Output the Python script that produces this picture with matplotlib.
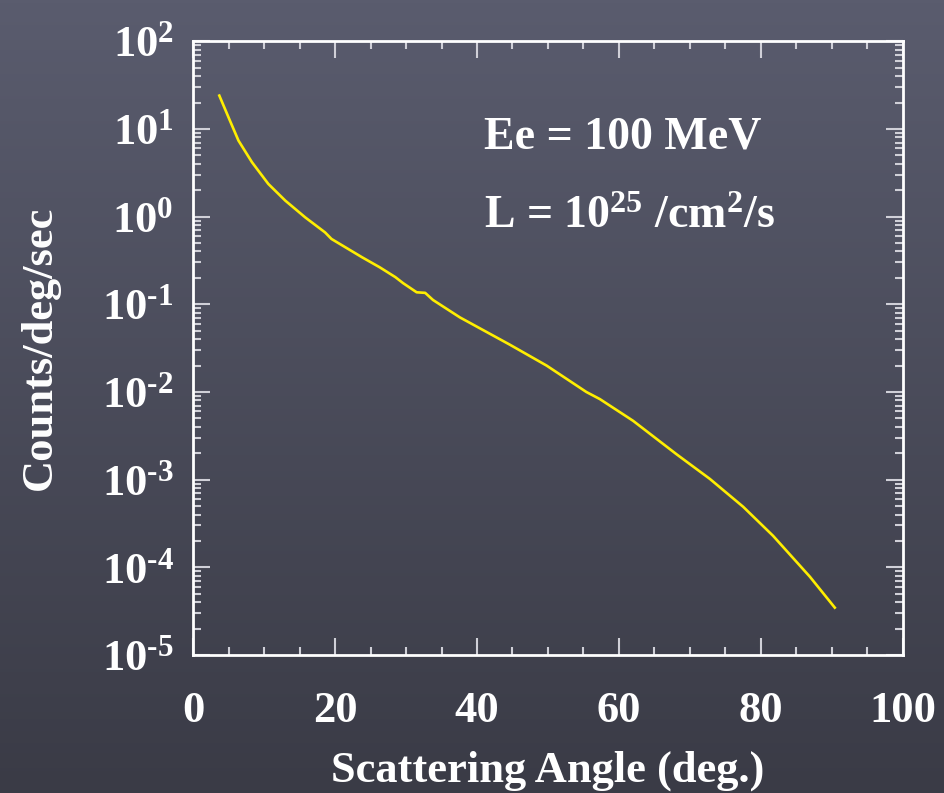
import numpy as np
import matplotlib
matplotlib.use("Agg")
import matplotlib.pyplot as plt
from matplotlib.ticker import FixedLocator, LogLocator, NullFormatter

# scattering angle (deg.) and counts/deg/sec
angle = [3.7, 5.2, 6.4, 8.3, 10.6, 13.0, 15.8, 18.6, 19.5, 23.8, 26.3, 28.5,
         29.6, 31.5, 32.7, 33.8, 37.6, 44.6, 49.8, 55.4, 57.3, 61.3, 62.0,
         68.1, 72.8, 77.5, 81.7, 86.9, 90.4]
counts = [24.0, 12.4, 7.36, 4.17, 2.36, 1.52, 0.98, 0.66, 0.556, 0.344,
          0.264, 0.204, 0.174, 0.137, 0.135, 0.112, 0.0708, 0.0347, 0.020,
          0.010, 0.0083, 0.0051, 0.00468, 0.00195, 0.00102, 0.00049,
          0.000229, 7.8e-5, 3.47e-5]

xticks = [0, 20, 40, 60, 80, 100]
ydecades = [-5, -4, -3, -2, -1, 0, 1, 2]

plt.rcParams['font.family'] = ['Liberation Serif', 'DejaVu Serif']
plt.rcParams['font.weight'] = 'bold'
plt.rcParams['mathtext.fontset'] = 'custom'
plt.rcParams['mathtext.rm'] = 'Liberation Serif:bold'
plt.rcParams['mathtext.bf'] = 'Liberation Serif:bold'
plt.rcParams['mathtext.it'] = 'Liberation Serif:bold'

fig = plt.figure(figsize=(9.44, 7.93), dpi=100)

# slate background
bg = fig.add_axes([0, 0, 1, 1], zorder=-10)
top = np.array([90, 92, 110]) / 255
bot = np.array([58, 59, 70]) / 255
t = np.linspace(0, 1, 256)[:, None]
grad = top[None, :] * (1 - t) + bot[None, :] * t
bg.imshow(grad[:, None, :], aspect='auto', extent=[0, 1, 0, 1])
bg.axis('off')

ax = fig.add_axes([0.2045, 0.174, 0.752, 0.774])
ax.patch.set_alpha(0)
ax.plot(angle, counts, color='#ffee00', lw=1.9)
ax.set_yscale('log')
ax.set_xlim(0, 100)
ax.set_ylim(1e-5, 1e2)

for s in ax.spines.values():
    s.set_color('white')
    s.set_linewidth(2)

ax.xaxis.set_major_locator(FixedLocator(xticks))
ax.xaxis.set_minor_locator(FixedLocator(np.arange(0, 101, 5)))
ax.set_xticklabels([str(v) for v in xticks])
ax.yaxis.set_major_locator(FixedLocator([10.0 ** d for d in ydecades]))
ax.yaxis.set_minor_locator(LogLocator(base=10, subs=np.arange(2, 10), numticks=100))
ax.yaxis.set_minor_formatter(NullFormatter())
ax.set_yticklabels([r'$\mathbf{10^{\text{%d}}}$' % d for d in ydecades])

ax.tick_params(which='both', direction='in', top=True, right=True,
               colors='#d0d0d8', labelcolor='white', labelsize=32)
ax.tick_params(which='major', length=12, width=1.5)
ax.tick_params(which='minor', length=6, width=1.5)
ax.tick_params(axis='x', which='major', pad=26)
ax.tick_params(axis='y', which='major', pad=14)

ax.set_xlabel('Scattering Angle (deg.)', color='white', fontsize=32,
              fontweight='bold', labelpad=14)
ax.set_ylabel('Counts/deg/sec', color='white', fontsize=32,
              fontweight='bold', labelpad=30)

ax.text(0.41, 0.825, 'Ee = 100 MeV', transform=ax.transAxes, color='white',
        fontsize=33, fontweight='bold')
ax.text(0.41, 0.695, r'L = 10$^{25}$ /cm$^{2}$/s', transform=ax.transAxes,
        color='white', fontsize=33, fontweight='bold')

fig.savefig('out.png', dpi=100)
